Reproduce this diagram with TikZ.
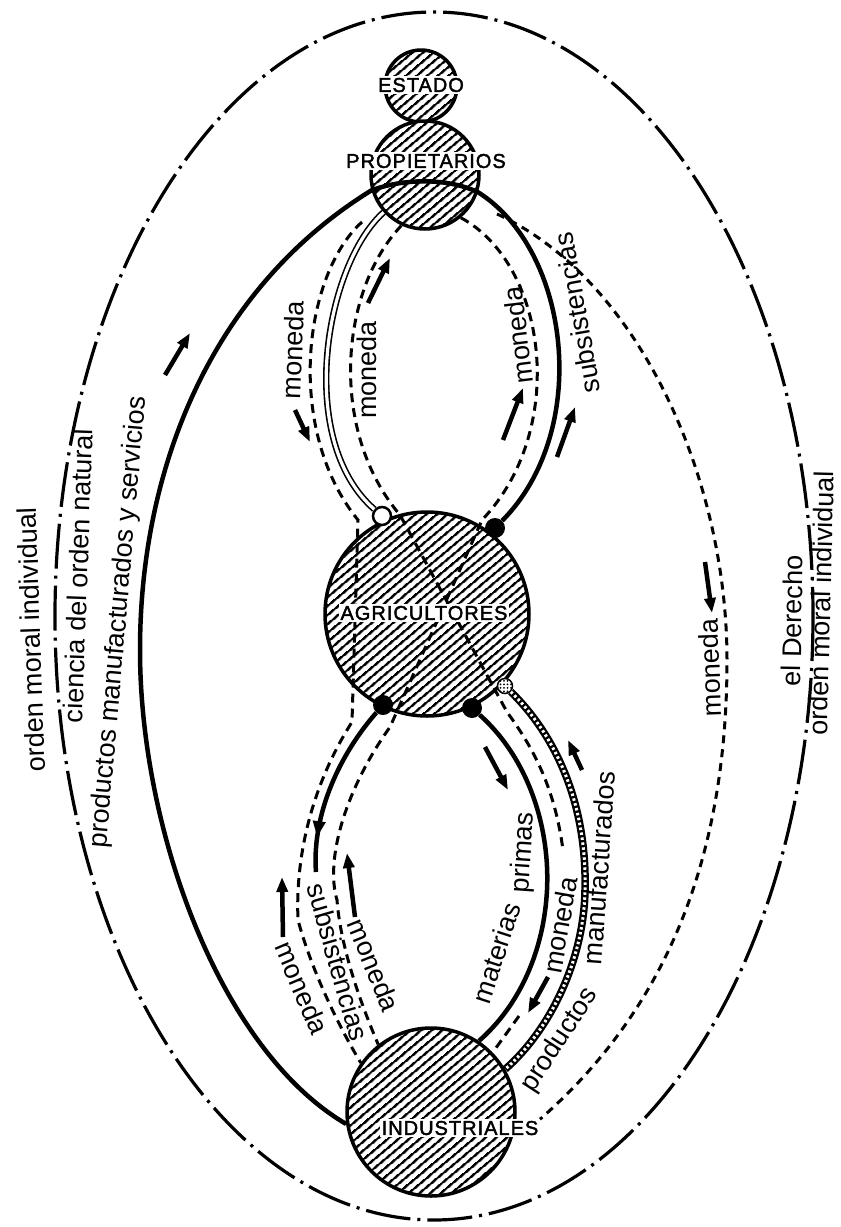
\documentclass[tikz,border=0pt]{standalone}
\usepackage{fontspec}
\setmainfont{Liberation Sans}
\newfontfamily\capsfont[LetterSpace=5,FakeBold=2]{Liberation Sans}
\usetikzlibrary{patterns.meta,arrows.meta,decorations.markings}
\tikzset{
  hatched/.style={circle, draw, line width=3.5pt, inner sep=0pt, preaction={fill=white},
    pattern={Lines[angle=40,distance=6.5pt,line width=2.6pt]}},
  capslab/.style={fill=white, inner sep=1.5pt, font={\capsfont\fontsize{20}{22}\selectfont}},
  txt/.style={inner sep=0pt, font={\fontsize{27}{30}\selectfont}},
  money/.style={line width=3pt, dash pattern=on 9pt off 6pt},
  money2/.style={line width=3pt, dash pattern=on 8pt off 6pt},
  goods/.style={line width=4.5pt},
  hollow/.style={draw=black, double=white, line width=1.6pt, double distance=3.2pt},
  chain/.style={line width=3pt, draw=white, dash pattern=on 2.5pt off 2.5pt,
    preaction={draw=black, line width=7.5pt, solid}},
  frame/.style={line width=3.2pt, dash pattern=on 45pt off 7pt on 3pt off 7pt},
  flowarrow/.style={line width=4.5pt, -{Triangle[length=15pt,width=11pt]}},
  bdot/.style={circle, fill=black, minimum size=20pt, inner sep=0pt},
}
\begin{document}
\begin{tikzpicture}[x=1pt,y=-1pt]
\fill[white] (0,0) rectangle (841,1227);
\useasboundingbox (0,0) rectangle (841,1227);

% outer frame
\draw[frame] (434,616) ellipse [x radius=379, y radius=604];

% circles
\node[hatched, minimum size=72pt] (est) at (421,86) {};
\node[hatched, minimum size=108pt] (prop) at (425,175) {};
\node[hatched, minimum size=204pt] (agr) at (427,614) {};
\node[hatched, minimum size=168pt] (ind) at (431,1112) {};

% junction dots
\node[circle, fill=white, draw, line width=2.5pt, minimum size=18pt, inner sep=0pt] (wdot) at (382,516) {};
\node[bdot] (bd1) at (495,528) {};
\node[bdot] (bd2) at (383,705) {};
\node[bdot] (bd3) at (472,708) {};
\node[circle, draw, line width=1.5pt, minimum size=15pt, inner sep=0pt, preaction={fill=white},
  pattern={Dots[distance=3.5pt, radius=1pt]}] (pdot) at (505,686) {};

\node[capslab] (indL) at (460,1128) {INDUSTRIALES};

\coordinate (ulo) at (362,222);
\coordinate (rds) at (497,214);
\coordinate (lrd) at (519,1016);

% big solid: industriales -> left -> propietarios -> upper right loop
\draw[goods] (ind.188) .. controls (220,1050) and (140,830) .. (140,650)
  .. controls (140,470) and (210,290) .. (prop.196)
  .. controls (405,178) and (448,178) .. (prop.-18)
  .. controls (570,250) and (592,430) .. (bd1);

% upper left hollow line
\draw[hollow] (prop.222) .. controls (325,265) and (295,440) .. (wdot);

% dashed money lines
\draw[money] (ulo) .. controls (303,275) and (285,430) .. (358,520) -- (352,722)
  .. controls (315,780) and (295,850) .. (298,920)
  .. controls (310,965) and (335,1020) .. (ind.145);
\draw[money] (prop.245) .. controls (340,290) and (328,430) .. (400,515) -- (507,712)
  .. controls (535,750) and (555,790) .. (563,850);
\draw[money] (lrd) -- (ind.44);
\draw[money] (prop.-50) .. controls (548,265) and (568,430) .. (482,520) -- (390,727)
  .. controls (345,790) and (325,860) .. (337,900)
  .. controls (340,940) and (355,990) .. (ind.128);
\draw[money2] (rds) .. controls (640,280) and (727,480) .. (727,660)
  .. controls (727,860) and (665,1010) .. (indL.north east);

% lower left solid (subsistencias)
\draw[goods, postaction={decorate}, decoration={markings,
  mark=at position 0.8 with {\arrow{Triangle[length=16pt,width=12pt]}}}]
  (bd2) .. controls (335,760) and (312,820) .. (316,872);

% lower right solid (materias primas)
\draw[goods] (bd3) .. controls (530,760) and (550,830) .. (547,890)
  .. controls (544,950) and (520,1005) .. (ind.56);

% productos manufacturados chain
\draw[chain] (pdot) .. controls (560,740) and (587,810) .. (585,890)
  .. controls (584,960) and (550,1030) .. (ind.30);

% circle labels
\node[capslab] (estL) at (421,85) {ESTADO};
\node[capslab] (propL) at (426,161) {PROPIETARIOS};
\node[capslab] (agrL) at (424,613) {AGRICULTORES};
\node[capslab] at (indL) {INDUSTRIALES};

% flow labels
\node[txt, rotate=88] (l1) at (293,350) {moneda};
\node[txt, rotate=90] (l2) at (367,370) {moneda};
\node[txt, rotate=97] (l3) at (518,335) {moneda};
\node[txt, rotate=100] (l4) at (577,313) {subsistencias};
\node[txt, rotate=92] (l5) at (710,668) {moneda};
\node[txt, rotate=-67] (l6) at (302,988) {moneda};
\node[txt, rotate=-74] (l7) at (338,962) {subsistencias};
\node[txt, rotate=-68] (l8) at (374,965) {moneda};
\node[txt, rotate=86] (l9) at (524,853) {primas};
\node[txt, rotate=72] (l10) at (496,953) {materias};
\node[txt, rotate=80] (l11) at (560,925) {moneda};
\node[txt, rotate=86] (l12) at (599,868) {manufacturados};
\node[txt, rotate=57] (l13) at (560,1040) {productos};
\node[txt, rotate=85] (l14) at (119,622) {productos manufacturados y servicios};
\node[txt, rotate=92] (l15) at (31,640) {orden moral individual};
\node[txt, rotate=88] (l16) at (78,576) {ciencia del orden natural};
\node[txt, rotate=89] (l17) at (792,621) {el Derecho};
\node[txt, rotate=88.5] (l18) at (821,603) {orden moral individual};

% flow arrows
\draw[flowarrow] (295,410) -- (310,442);
\draw[flowarrow] (368,303) -- (390,258);
\draw[flowarrow] (503,440) -- (523,388);
\draw[flowarrow] (557,457) -- (575,407);
\draw[flowarrow] (705,562) -- (712,613);
\draw[flowarrow] (283,937) -- (282,877);
\draw[flowarrow] (355,917) -- (347,853);
\draw[flowarrow] (485,747) -- (508,790);
\draw[flowarrow] (548,977) -- (528,1013);
\draw[flowarrow] (582,770) -- (568,740);
\draw[flowarrow] (165,375) -- (190,333);
\end{tikzpicture}
\end{document}
